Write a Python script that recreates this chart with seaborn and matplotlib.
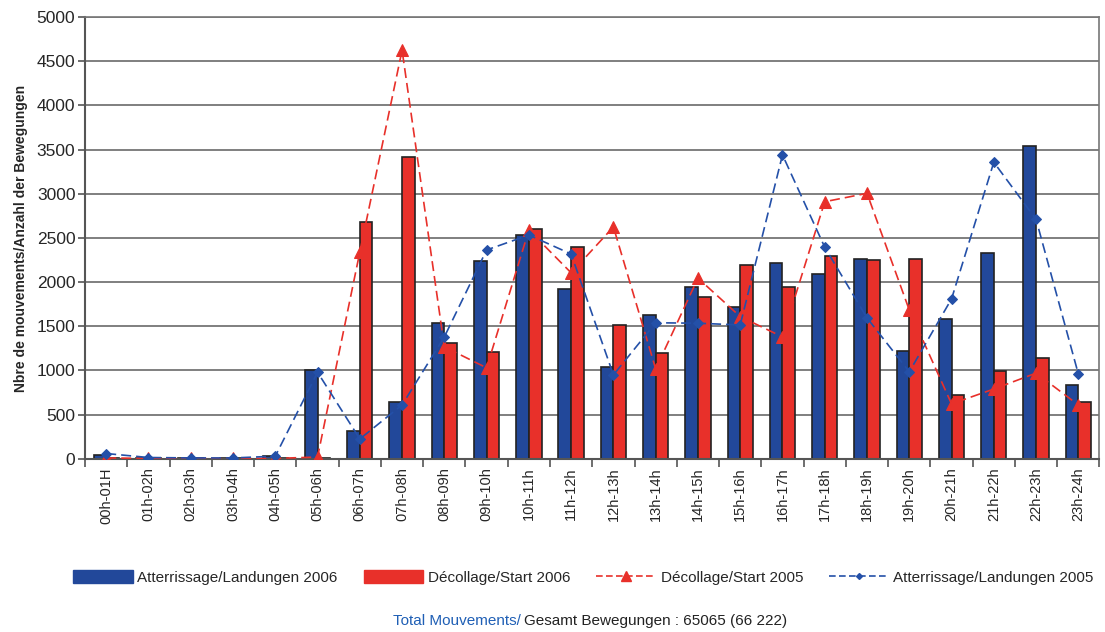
import matplotlib
matplotlib.use("Agg")
import matplotlib.pyplot as plt
import seaborn as sns
import pandas as pd
import numpy as np
from matplotlib.patches import Patch
from matplotlib.lines import Line2D

categories = ["00h-01H", "01h-02h", "02h-03h", "03h-04h", "04h-05h", "05h-06h",
              "06h-07h", "07h-08h", "08h-09h", "09h-10h", "10h-11h", "11h-12h",
              "12h-13h", "13h-14h", "14h-15h", "15h-16h", "16h-17h", "17h-18h",
              "18h-19h", "19h-20h", "20h-21h", "21h-22h", "22h-23h", "23h-24h"]

landings_2006 = [40, 15, 10, 5, 35, 1000, 320, 640, 1540, 2240, 2533, 1923,
                 1040, 1630, 1945, 1720, 2217, 2092, 2262, 1220, 1585, 2330, 3545, 840]
takeoffs_2006 = [15, 10, 5, 5, 15, 10, 2680, 3415, 1312, 1210, 2600, 2400,
                 1515, 1200, 1835, 2195, 1945, 2296, 2245, 2262, 724, 995, 1142, 645]
takeoffs_2005 = [10, 5, 5, 5, 5, 20, 2340, 4625, 1267, 1030, 2590, 2105,
                 2625, 1017, 2045, 1610, 1380, 2910, 3005, 1685, 622, 790, 970, 610]
landings_2005 = [60, 15, 10, 10, 30, 980, 225, 610, 1380, 2364, 2533, 2318,
                 950, 1540, 1535, 1515, 3440, 2395, 1595, 985, 1810, 3357, 2710, 960]

series_bar = ["Atterrissage/Landungen 2006", "Décollage/Start 2006"]
label_l05 = "Atterrissage/Landungen 2005"
label_t05 = "Décollage/Start 2005"

BLUE = "#22489A"
RED = "#E8302A"
LBLUE = "#2450A8"

df = pd.DataFrame({
    "cat": categories * 2,
    "val": landings_2006 + takeoffs_2006,
    "serie": [series_bar[0]] * 24 + [series_bar[1]] * 24,
})

sns.set_style("white")
plt.rcParams["font.family"] = ["Liberation Sans", "DejaVu Sans"]

fig = plt.figure(figsize=(11.05, 6.32), dpi=100)
ax = fig.add_axes([0.077, 0.274, 0.918, 0.699])

sns.barplot(data=df, x="cat", y="val", hue="serie", order=categories,
            hue_order=series_bar, palette=[BLUE, RED], width=0.6, saturation=1,
            edgecolor="#222222", linewidth=1.2, ax=ax, legend=False)

sns.lineplot(x=categories, y=takeoffs_2005, ax=ax, sort=False, color=RED,
             linestyle=(0, (6, 3)), linewidth=1.2, marker="^", markersize=8,
             markeredgecolor=RED, markerfacecolor=RED, zorder=5)
sns.lineplot(x=categories, y=landings_2005, ax=ax, sort=False, color=LBLUE,
             linestyle=(0, (6, 3)), linewidth=1.2, marker="D", markersize=5,
             markeredgecolor=LBLUE, markerfacecolor=LBLUE, zorder=6)

ax.set_ylim(0, 5000)
ax.set_xlim(-0.5, 23.5)
ax.set_yticks(np.arange(0, 5001, 500))
ax.yaxis.grid(True, color="#6a6a6a", linewidth=1.2)
ax.set_axisbelow(True)
ax.tick_params(axis="y", labelsize=12.5, length=5, width=1.2, color="#555555", left=True, pad=2)
ax.tick_params(axis="x", which="major", labelsize=10.5, rotation=90, length=0, pad=6)
ax.set_xticks(np.arange(-0.5, 24, 1), minor=True)
ax.tick_params(axis="x", which="minor", length=6, width=1.2, color="#555555", bottom=True)
ax.set_xlabel("")
ax.set_ylabel("Nbre de mouvements/Anzahl der Bewegungen", fontsize=10,
              fontweight="bold", labelpad=6)
for side in ["left", "bottom"]:
    ax.spines[side].set_color("#555555")
    ax.spines[side].set_linewidth(1.5)
for side in ["top", "right"]:
    ax.spines[side].set_color("#777777")
    ax.spines[side].set_linewidth(1.2)

handles = [
    Patch(facecolor=BLUE, edgecolor=BLUE),
    Patch(facecolor=RED, edgecolor=RED),
    Line2D([], [], color=RED, linestyle=(0, (4, 2)), linewidth=1.2, marker="^",
           markersize=7, markerfacecolor=RED, markeredgecolor=RED),
    Line2D([], [], color=LBLUE, linestyle=(0, (4, 2)), linewidth=1.2, marker="D",
           markersize=3, markerfacecolor=LBLUE, markeredgecolor=LBLUE),
]
labels = [series_bar[0], series_bar[1], label_t05, label_l05]
fig.legend(handles, labels, loc="center", bbox_to_anchor=(0.528, 0.086), ncol=4,
           frameon=False, fontsize=11, handlelength=3.9, handleheight=0.9,
           columnspacing=1.7, handletextpad=0.3)

fig.text(0.4715, 0.018, "Total Mouvements/", color="#1F5FB5", fontsize=11,
         ha="right", va="center")
fig.text(0.4745, 0.018, "Gesamt Bewegungen : 65065 (66 222)", color="#222222",
         fontsize=11, ha="left", va="center")

fig.savefig("out.png", dpi=100)
